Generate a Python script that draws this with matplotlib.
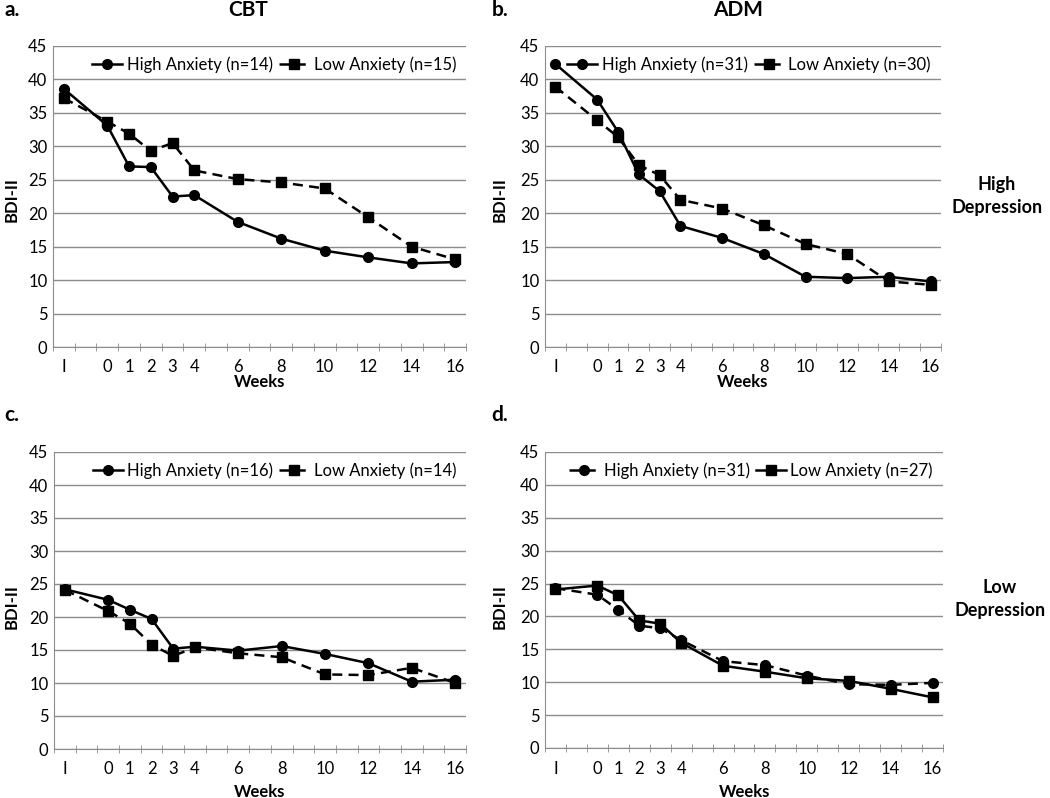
import matplotlib
matplotlib.use("Agg")
import matplotlib.pyplot as plt

plt.rcParams['font.family'] = ['Lato', 'DejaVu Sans']

# Excel-style category axis (blank slots for the missing weeks)
categories = ["I", "", "0", "1", "2", "3", "4", "", "6", "", "8", "", "10", "", "12", "", "14", "", "16"]
weeks = ["I", "0", "1", "2", "3", "4", "6", "8", "10", "12", "14", "16"]

# a. CBT, high depression
cbt_hi_high = [38.6, 33.1, 27.0, 26.9, 22.5, 22.7, 18.7, 16.2, 14.4, 13.4, 12.5, 12.7]
cbt_hi_low = [37.2, 33.7, 31.9, 29.3, 30.5, 26.4, 25.1, 24.6, 23.7, 19.4, 15.0, 13.1]
# b. ADM, high depression
adm_hi_high = [42.3, 37.0, 32.2, 25.8, 23.3, 18.1, 16.3, 13.9, 10.5, 10.3, 10.5, 9.8]
adm_hi_low = [38.9, 33.9, 31.4, 27.2, 25.7, 22.0, 20.7, 18.2, 15.4, 13.9, 9.8, 9.3]
# c. CBT, low depression
cbt_lo_high = [24.2, 22.6, 21.1, 19.7, 15.2, 15.5, 14.9, 15.6, 14.4, 13.0, 10.2, 10.5]
cbt_lo_low = [24.1, 20.9, 19.0, 15.8, 14.1, 15.4, 14.5, 13.9, 11.3, 11.2, 12.3, 10.0]
# d. ADM, low depression
adm_lo_high = [24.3, 23.3, 21.0, 18.6, 18.2, 16.4, 13.2, 12.6, 11.0, 9.7, 9.6, 9.9]
adm_lo_low = [24.1, 24.7, 23.2, 19.4, 18.9, 16.0, 12.5, 11.6, 10.6, 10.2, 9.0, 7.7]

n_labels = [("14", "15"), ("31", "30"), ("16", "14"), ("31", "27")]

W, H = 1050, 798
fig = plt.figure(figsize=(W / 100, H / 100), dpi=100)


def box(x0, y0, x1, y1):
    return [x0 / W, 1 - y1 / H, (x1 - x0) / W, (y1 - y0) / H]


def ftext(x, y, s, **kw):
    fig.text(x / W, 1 - y / H, s, **kw)


xpos = [categories.index(w) + 0.5 for w in weeks]
grid_col = "#8c8c8c"


def panel(rect, high, low, ns, high_dashed=True):
    ax = fig.add_axes(rect)
    hi_ls = "-" if high_dashed else "--"
    lo_ls = "--" if high_dashed else "-"
    ax.plot(xpos, high, ls=hi_ls, color="black", lw=1.8, marker="o", ms=7,
            label=f"High Anxiety (n={ns[0]})", dashes=(4, 2.5) if hi_ls == "--" else (None, None))
    ax.plot(xpos, low, ls=lo_ls, color="black", lw=1.8, marker="s", ms=7,
            label=f"Low Anxiety (n={ns[1]})", dashes=(4, 2.5) if lo_ls == "--" else (None, None))
    ax.set_xlim(0, len(categories))
    ax.set_ylim(0, 45)
    ax.set_yticks(range(0, 46, 5))
    ax.yaxis.grid(True, color=grid_col, lw=1)
    ax.set_axisbelow(True)
    ax.set_xticks(xpos)
    ax.set_xticklabels(weeks)
    ax.set_xticks(range(len(categories) + 1), minor=True)
    ax.tick_params(axis="x", which="major", length=0, pad=9, labelsize=12)
    ax.tick_params(axis="x", which="minor", direction="inout", length=6, color=grid_col)
    ax.tick_params(axis="y", length=0, pad=4, labelsize=12)
    for s in ["top", "right"]:
        ax.spines[s].set_visible(False)
    for s in ["left", "bottom"]:
        ax.spines[s].set_color(grid_col)
    ax.legend(loc="upper right", bbox_to_anchor=(1.0, 1.0), ncol=2, frameon=False,
              handlelength=1.8, handletextpad=0.25, columnspacing=0.4, fontsize=12,
              borderaxespad=0.2)
    return ax


panel(box(53, 46, 466, 347), cbt_hi_high, cbt_hi_low, n_labels[0], high_dashed=True)
panel(box(545, 46, 941, 347), adm_hi_high, adm_hi_low, n_labels[1], high_dashed=True)
panel(box(54, 452, 466, 749), cbt_lo_high, cbt_lo_low, n_labels[2], high_dashed=True)
panel(box(545, 452, 943, 748), adm_lo_high, adm_lo_low, n_labels[3], high_dashed=False)

bold = dict(fontweight="bold", ha="center", va="center")
ftext(12, 10, "a.", fontsize=15, **bold)
ftext(248, 10, "CBT", fontsize=15, **bold)
ftext(500, 10, "b.", fontsize=15, **bold)
ftext(738, 10, "ADM", fontsize=15, **bold)
ftext(12, 415, "c.", fontsize=15, **bold)
ftext(500, 415, "d.", fontsize=15, **bold)
for x, y in [(260, 382), (743, 382), (260, 792), (745, 792)]:
    ftext(x, y, "Weeks", fontsize=12, **bold)
for x, y in [(12, 200), (500, 200), (12, 607), (500, 607)]:
    ftext(x, y, "BDI-II", fontsize=12, rotation=90, **bold)
ftext(997, 196, "High\nDepression", fontsize=13, linespacing=1.4, **bold)
ftext(1000, 599, "Low\nDepression", fontsize=13, linespacing=1.4, **bold)

fig.savefig("out.png", dpi=100)
